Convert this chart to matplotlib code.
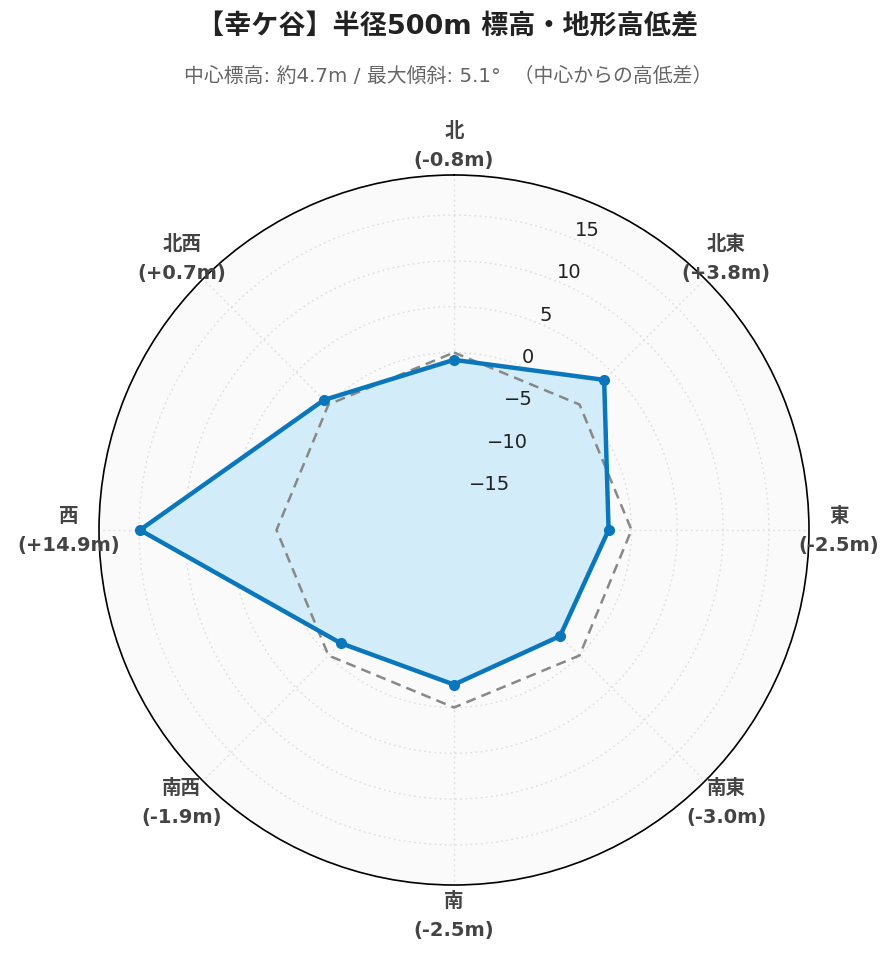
import numpy as np
import matplotlib
matplotlib.use("Agg")
import matplotlib.pyplot as plt

plt.rcParams['font.family'] = ['DejaVu Sans', 'Noto Sans CJK JP']

directions = ["北", "北東", "東", "南東", "南", "南西", "西", "北西"]
diffs = [-0.8, 3.8, -2.5, -3.0, -2.5, -1.9, 14.9, 0.7]
ref_line = [0, 0, 0, 0, 0, 0, 0, 0]
rticks = [-15, -10, -5, 0, 5, 10, 15]
title = "【幸ケ谷】半径500m 標高・地形高低差"
subtitle = "中心標高: 約4.7m / 最大傾斜: 5.1°  （中心からの高低差）"

W, H = 896, 962
fig = plt.figure(figsize=(W / 100, H / 100), dpi=100)
cx, cy, R = 454, 531, 355
ax = fig.add_axes([(cx - R) / W, (H - cy - R) / H, 2 * R / W, 2 * R / H], projection='polar')
ax.set_theta_zero_location('N')
ax.set_theta_direction(-1)

rng = max(abs(v) for v in diffs) * 1.3
ax.set_ylim(-rng, rng)
ax.set_facecolor('#fafafa')

n = len(directions)
theta = np.arange(n) * 2 * np.pi / n
tc = np.append(theta, theta[0])
dc = np.append(diffs, diffs[0])
rc = np.append(ref_line, ref_line[0])

ax.fill(tc, dc, color='#d2ecf9', zorder=2)
ax.plot(tc, rc, color='#888888', lw=1.8, ls=(0, (4, 2.5)), zorder=3)
ax.plot(tc, dc, color='#0a77bd', lw=3.2, zorder=4, solid_joinstyle='miter')
ax.plot(theta, diffs, 'o', color='#0a77bd', ms=7, zorder=5)

ax.set_xticks(theta)
ax.set_xticklabels([])
ax.set_yticks(rticks)
ax.set_yticklabels([])
ax.grid(True, color='#dcdcdc', lw=1, ls=(0, (1.2, 2.5)))
ax.spines['polar'].set_color('black')
ax.spines['polar'].set_linewidth(1.2)

# radial tick labels
ang = np.deg2rad(22.5)
for v in rticks:
    ax.text(ang, v, "\u2212" + str(abs(v)) if v < 0 else str(v), ha='left', va='bottom',
            fontsize=14, color='#222222', zorder=6, family=['DejaVu Sans'])

# category labels
lab_r = -rng + 385 / (R / (2 * rng))
for t, d, v in zip(theta, directions, diffs):
    ax.text(t, lab_r, f"{d}\n({v:+.1f}m)" if v > 0 else f"{d}\n({v:.1f}m)",
            ha='center', va='center', fontsize=14, fontweight='bold', color='#444444',
            clip_on=False, linespacing=1.7, zorder=7)

fig.text(0.5, 1 - 27 / H, title, ha='center', va='center', fontsize=19.5,
         fontweight='bold', color='#222222')
fig.text(0.5, 1 - 76 / H, subtitle, ha='center', va='center', fontsize=14.3,
         color='#666666')

fig.savefig('out.png', dpi=100, facecolor='white')
